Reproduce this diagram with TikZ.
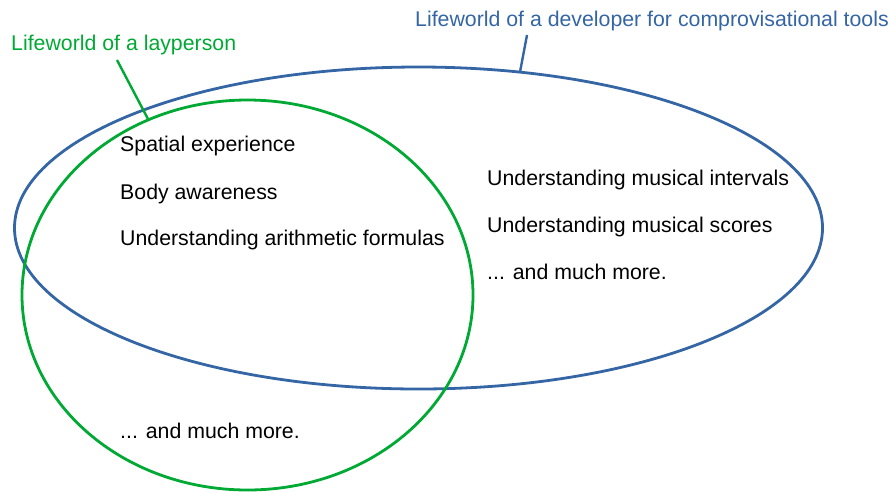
\documentclass[tikz,border=0pt]{standalone}
\usepackage{fontspec}
\setmainfont{Liberation Sans}
\usepackage{tikz}
\usetikzlibrary{positioning}
\definecolor{layGreen}{HTML}{00A933}
\definecolor{devBlue}{HTML}{3465A4}
\tikzset{
  item/.style={anchor=base west, inner sep=0pt, font=\fontsize{21.3}{25}\selectfont},
  world/.style={line width=2.8pt}
}

\begin{document}
\begin{tikzpicture}[x=1pt, y=-1pt]
  \useasboundingbox (0,0) rectangle (890,491);

  % the two lifeworlds
  \draw[world, devBlue] (418.5,228) ellipse [x radius=404, y radius=161];
  \draw[world, layGreen] (247.5,295) ellipse [x radius=225.5, y radius=195];

  % labels
  \node[item, text=layGreen] (layLabel) at (11,50) {Lifeworld of a layperson};
  \node[item, text=devBlue] (devLabel) at (415,26) {Lifeworld of a developer for comprovisational tools};
  \coordinate (layEnd) at (148,119);
  \coordinate (devEnd) at (520,72);
  \draw[world, layGreen, line width=2.4pt] (117,60) -- (layEnd);
  \draw[world, devBlue, line width=2.4pt] (527,35) -- (devEnd);

  % shared items
  \node[item] (spatial) at (120,151) {Spatial experience};
  \node[item] (body) at (120,199) {Body awareness};
  \node[item] (arith) at (120,245.5) {Understanding arithmetic formulas};
  \node[item] (layMore) at (120,438) {... and much more.};

  % developer items
  \node[item] (intervals) at (487,185) {Understanding musical intervals};
  \node[item] (scores) at (487,232) {Understanding musical scores};
  \node[item] (devMore) at (487,279) {... and much more.};
\end{tikzpicture}
\end{document}
